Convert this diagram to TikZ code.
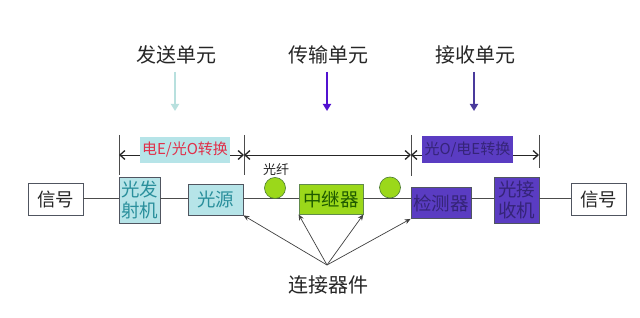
\documentclass[tikz,border=0pt]{standalone}
\usepackage{fontspec}
\setmainfont{Noto Sans CJK SC}
\usetikzlibrary{arrows.meta}
\definecolor{cyanfill}{HTML}{B6E4E8}
\definecolor{cyantext}{HTML}{2A8F9C}
\definecolor{greenfill}{HTML}{9BD81A}
\definecolor{greentext}{HTML}{1E5A00}
\definecolor{purplefill}{HTML}{5A3CC2}
\definecolor{purpletext}{HTML}{352478}
\definecolor{boxline}{HTML}{505560}
\definecolor{redtext}{HTML}{E0304A}
\definecolor{arrowA}{HTML}{B8E0DE}
\definecolor{arrowB}{HTML}{5212D0}
\definecolor{arrowC}{HTML}{4A3A9C}
\tikzset{
  blk/.style={draw=boxline, line width=0.8pt, inner sep=0pt, align=center, font=\fontsize{18.5}{20}\selectfont},
  wline/.style={draw=black!70, line width=0.8pt},
  fiber/.style={circle, draw=greentext!80, fill=greenfill, line width=0.6pt, minimum size=21pt, inner sep=0pt},
  title/.style={font=\fontsize{20}{22}\selectfont, text=black!85},
  downarrow/.style={line width=2.6pt, -{Triangle[length=7pt,width=8pt]}},
  bracket/.style={draw=black!70, line width=0.8pt},
  span/.style={draw=black!85, line width=0.8pt, {Straight Barb[length=5pt,width=9pt,line width=1.3pt]}-{Straight Barb[length=5pt,width=9pt,line width=1.3pt]}},
  conn/.style={draw=black!75, line width=0.7pt, -{Stealth[length=6pt,width=5pt]}},
  spanlabel/.style={inner sep=0pt, font=\fontsize{15}{17}\selectfont}
}
\begin{document}
\begin{tikzpicture}[x=1pt,y=-1pt]
\useasboundingbox (0,0) rectangle (640,318);
\fill[white] (0,0) rectangle (640,318);

% titles
\node[title] (t1) at (176,55) {发送单元};
\node[title] (t2) at (328,55) {传输单元};
\node[title] (t3) at (475,55) {接收单元};
\coordinate (a1e) at (175,111);
\coordinate (a2e) at (327,111);
\coordinate (a3e) at (474,111);
\draw[downarrow, draw=arrowA, arrowA] (175,72) -- (a1e);
\draw[downarrow, draw=arrowB, arrowB] (327,72) -- (a2e);
\draw[downarrow, draw=arrowC, arrowC] (474,72) -- (a3e);

% brackets
\coordinate (b1t) at (119,135); \coordinate (b1b) at (119,175);
\coordinate (b2t) at (244,135); \coordinate (b2b) at (244,175);
\coordinate (b3t) at (411,135); \coordinate (b3b) at (411,176);
\coordinate (b4t) at (539,135); \coordinate (b4b) at (539,168);
\draw[bracket] (b1t) -- (b1b);
\draw[bracket] (b2t) -- (b2b);
\draw[bracket] (b3t) -- (b3b);
\draw[bracket] (b4t) -- (b4b);
\coordinate (s1) at (119,155); \coordinate (s2) at (244,155);
\coordinate (s3) at (411,155); \coordinate (s4) at (539,155);
\draw[span] (s1) -- (s2);
\draw[span] (s2) -- (s3);
\draw[span] (s3) -- (s4);
\node[spanlabel, fill=cyanfill, text=redtext, minimum width=90pt, minimum height=26pt] (lab1) at (185,150) {电E/光O转换};
\node[spanlabel, fill=purplefill, text=purpletext, minimum width=91pt, minimum height=27pt] (lab2) at (467.5,149.5) {光O/电E转换};

% main chain
\node[blk, fill=white, text=black!85, minimum width=55pt, minimum height=32pt] (sigL) at (55.5,199) {信号};
\node[blk, fill=cyanfill, text=cyantext, minimum width=41pt, minimum height=46pt, font=\fontsize{18.5}{21}\selectfont] (tx) at (139.5,200) {光发\\射机};
\node[blk, fill=cyanfill, text=cyantext, minimum width=55pt, minimum height=31pt] (src) at (215.5,199.5) {光源};
\node[blk, fill=greenfill, draw=greentext!70, text=greentext, minimum width=64pt, minimum height=30pt] (rep) at (331,199) {中继器};
\node[blk, fill=purplefill, text=purpletext, minimum width=60pt, minimum height=31pt] (det) at (441,203) {检测器};
\node[blk, fill=purplefill, text=purpletext, minimum width=45pt, minimum height=46pt, font=\fontsize{18.5}{21}\selectfont] (rx) at (516.5,200) {光接\\收机};
\node[blk, fill=white, text=black!85, minimum width=55pt, minimum height=32pt] (sigR) at (598.5,199) {信号};

\coordinate (ly) at (0,198);
\draw[wline] (sigL.east |- ly) -- (tx.west |- ly);
\draw[wline] (tx.east |- ly) -- (src.west |- ly);
\draw[wline] (src.east |- ly) -- (rep.west |- ly);
\draw[wline] (rep.east |- ly) -- (det.west |- ly);
\draw[wline] (det.east |- ly) -- (rx.west |- ly);
\draw[wline] (rx.east |- ly) -- (sigR.west |- ly);

% fibre circles
\node[fiber] (c1) at (275,188) {};
\node[fiber] (c2) at (390,187.5) {};
\node[font=\fontsize{13}{15}\selectfont, text=black!85] (fl) at (276,170) {光纤};

% connectors
\node[title] (conn) at (328,285) {连接器件};
\coordinate (o) at (327,265);
\draw[conn] (o) -- (src.south east);
\draw[conn] (o) -- (rep.south west);
\draw[conn] (o) -- (rep.south east);
\draw[conn] (o) -- (det.south west);
\end{tikzpicture}
\end{document}
